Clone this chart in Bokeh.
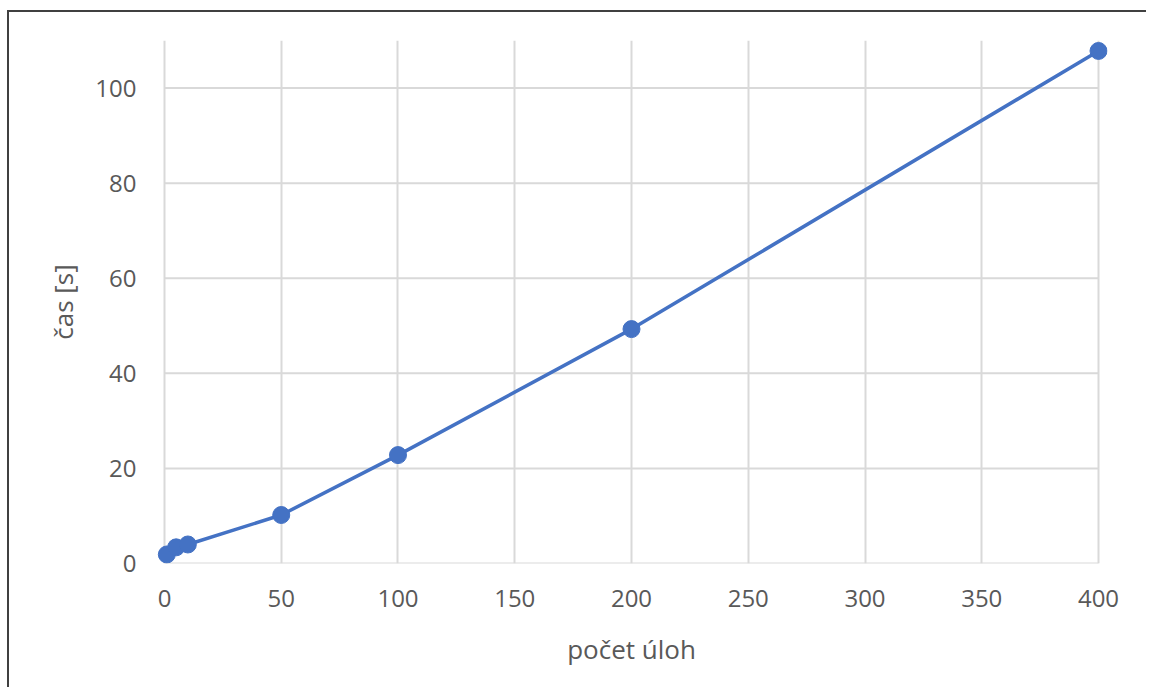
from bokeh.plotting import figure
from bokeh.models import FixedTicker, Range1d
from bokeh.embed import file_html
from bokeh.resources import INLINE

# data
uloh = [1, 5, 10, 50, 100, 200, 400]
cas = [1.9, 3.4, 4.0, 10.2, 22.8, 49.3, 107.8]
x_ticks = [0, 50, 100, 150, 200, 250, 300, 350, 400]
y_ticks = [0, 20, 40, 60, 80, 100]

FONT = "Open Sans"
TXT = "#595959"
BLUE = "#4472C4"
GRID = "#d9d9d9"

p = figure(
    frame_width=952, frame_height=523,
    x_range=Range1d(-3.85, 403.85), y_range=Range1d(0, 110),
    output_backend="svg", toolbar_location=None,
    min_border_left=146, min_border_top=28, min_border_right=39, min_border_bottom=124,
    x_axis_label="počet úloh", y_axis_label="čas [s]",
)
p.styles = {"border-left": "2px solid #404040", "border-top": "2px solid #404040",
            "margin-top": "10px", "margin-left": "7px"}
p.outline_line_color = None

# horizontal grid lines limited to the data x-extent
p.segment(x0=x_ticks[0], x1=x_ticks[-1], y0=y_ticks, y1=y_ticks,
          line_color=GRID, line_width=2)

p.line(uloh, cas, line_color=BLUE, line_width=3.5)
p.scatter(uloh, cas, size=17, fill_color=BLUE, line_color=BLUE)

for ax in (p.xaxis[0], p.yaxis[0]):
    ax.axis_line_color = None
    ax.major_tick_line_color = None
    ax.minor_tick_line_color = None
    ax.major_tick_out = 0
    ax.major_tick_in = 0
    ax.major_label_text_font = FONT
    ax.major_label_text_font_size = "24px"
    ax.major_label_text_color = TXT
    ax.axis_label_text_font = FONT
    ax.axis_label_text_font_size = "26px"
    ax.axis_label_text_color = TXT
    ax.axis_label_text_font_style = "normal"

p.xaxis[0].ticker = FixedTicker(ticks=x_ticks)
p.yaxis[0].ticker = FixedTicker(ticks=y_ticks)
p.xaxis[0].major_label_standoff = 26
p.yaxis[0].major_label_standoff = 19
p.xaxis[0].axis_label_standoff = 21
p.yaxis[0].axis_label_standoff = 11

p.xgrid[0].ticker = FixedTicker(ticks=x_ticks)
p.xgrid[0].grid_line_color = GRID
p.xgrid[0].grid_line_width = 2
p.ygrid[0].grid_line_color = None

open("out.html", "w").write(file_html(p, INLINE))
